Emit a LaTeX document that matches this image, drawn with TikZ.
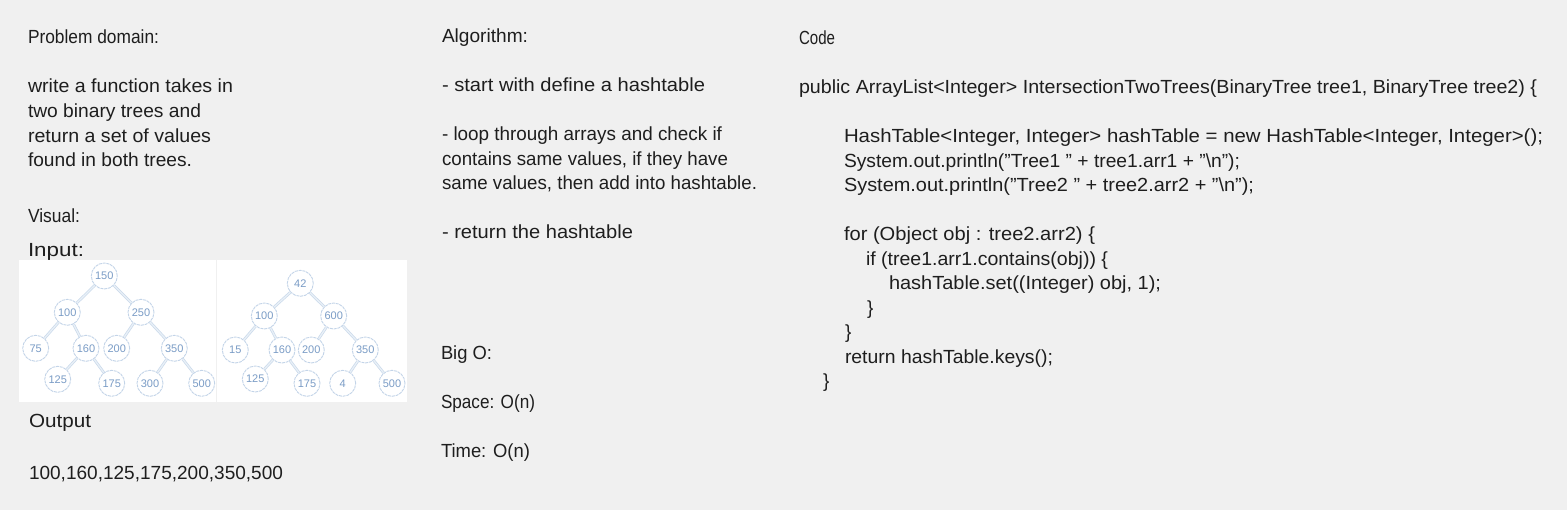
\documentclass[tikz,border=0pt]{standalone}
\usepackage{fontspec}
\setmainfont{Liberation Sans}
\usepackage{graphicx}
\definecolor{bg}{HTML}{F0F0F0}
\definecolor{ink}{HTML}{1E1E1E}
\definecolor{ring}{HTML}{C3D4E8}
\definecolor{edge}{HTML}{C9D9EB}
\definecolor{num}{HTML}{7A9CC6}
\newcommand\fitto[2]{\resizebox{#1pt}{\height}{#2}}
\newcommand\dq{\symbol{34}}
\tikzset{
  txt/.style={anchor=base west, inner sep=0pt, outer sep=0pt, text=ink, font=\fontsize{19}{24}\selectfont},
  tnode/.style={circle, draw=ring, line width=0.9pt, dash pattern=on 3pt off 0.8pt, fill=white, minimum size=26pt, inner sep=0pt, text=num, font=\fontsize{11}{12}\selectfont},
  tedge/.style={draw=edge, line width=0.7pt, double=white!60!edge, double distance=1.3pt},
  panel/.style={fill=white, draw=none}
}
\begin{document}
\begin{tikzpicture}[x=1pt,y=-1pt]
\useasboundingbox (0,0) rectangle (1567,510);
\fill[bg] (0,0) rectangle (1567,510);

% left column
\node[txt] (t1) at (28,44) {\fitto{131}{Problem domain:}};
\node[txt] (p1) at (28,93) {\fitto{205}{write a function takes in}};
\node[txt] (p2) at (28,118) {\fitto{173}{two binary trees and}};
\node[txt] (p3) at (28,143) {\fitto{183}{return a set of values}};
\node[txt] (p4) at (28,167) {\fitto{164}{found in both trees.}};
\node[txt] (vis) at (28,223) {\fitto{52}{Visual:}};
\node[txt] (inp) at (28,257) {\fitto{56}{Input:}};
\node[txt] (out) at (29,428) {\fitto{62}{Output}};
\node[txt] (res) at (29,479) {\fitto{254}{100,160,125,175,200,350,500}};

% tree panels
\path[panel] (19,260) rectangle (216,402);
\path[panel] (217,260) rectangle (407,402);

% tree 1
\node[tnode] (a150) at (104.3,276) {150};
\node[tnode] (a100) at (67.3,312.3) {100};
\node[tnode] (a250) at (141,312.3) {250};
\node[tnode] (a75) at (35.7,348.3) {75};
\node[tnode] (a160) at (86,348.3) {160};
\node[tnode] (a200) at (116.7,348.3) {200};
\node[tnode] (a350) at (174.3,348.3) {350};
\node[tnode] (a125) at (57.7,379.3) {125};
\node[tnode] (a175) at (111.7,383.3) {175};
\node[tnode] (a300) at (150,383.3) {300};
\node[tnode] (a500) at (201.7,383.3) {500};
\foreach \u/\v in {a150/a100,a150/a250,a100/a75,a100/a160,a250/a200,a250/a350,a160/a125,a160/a175,a350/a300,a350/a500}
  \path[tedge] (\u) -- (\v);

% tree 2
\node[tnode] (b42) at (300.3,283.3) {42};
\node[tnode] (b100) at (264.3,316) {100};
\node[tnode] (b600) at (333.7,316) {600};
\node[tnode] (b15) at (235.3,350) {15};
\node[tnode] (b160) at (282,350) {160};
\node[tnode] (b200) at (311.3,350) {200};
\node[tnode] (b350) at (365.3,350) {350};
\node[tnode] (b125) at (255.3,379) {125};
\node[tnode] (b175) at (307,383.3) {175};
\node[tnode] (b4) at (342.7,383.3) {4};
\node[tnode] (b500) at (392,383.3) {500};
\foreach \u/\v in {b42/b100,b42/b600,b100/b15,b100/b160,b600/b200,b600/b350,b160/b125,b160/b175,b350/b4,b350/b500}
  \path[tedge] (\u) -- (\v);

% algorithm column
\node[txt] (alg) at (442,43) {\fitto{86}{Algorithm:}};
\node[txt] (al1) at (442,92) {\fitto{263}{- start with define a hashtable}};
\node[txt] (al2) at (442,141) {\fitto{280}{- loop through arrays and check if}};
\node[txt] (al3) at (442,165.5) {\fitto{286}{contains same values, if they have}};
\node[txt] (al4) at (442,190) {\fitto{315}{same values, then add into hashtable.}};
\node[txt] (al5) at (442,239) {\fitto{191}{- return the hashtable}};
\node[txt] (big) at (441,360) {\fitto{51}{Big O:}};
\node[txt] (spc) at (441,409) {\fitto{94}{Space: O(n)}};
\node[txt] (tim) at (441,458) {\fitto{89}{Time: O(n)}};

% code column
\node[txt] (code) at (799,45) {\fitto{36}{Code}};
\node[txt] (c1) at (799,94) {\fitto{738}{public ArrayList<Integer> IntersectionTwoTrees(BinaryTree tree1, BinaryTree tree2) \{}};
\node[txt] (c2) at (844,143) {\fitto{699}{HashTable<Integer, Integer> hashTable = new HashTable<Integer, Integer>();}};
\node[txt] (c3) at (844,168) {\fitto{396}{System.out.println(\dq Tree1 \dq{} + tree1.arr1 + \dq\textbackslash n\dq);}};
\node[txt] (c4) at (844,192) {\fitto{410}{System.out.println(\dq Tree2 \dq{} + tree2.arr2 + \dq\textbackslash n\dq);}};
\node[txt] (c5) at (844,241) {\fitto{251}{for (Object obj : tree2.arr2) \{}};
\node[txt] (c6) at (866,266) {\fitto{242}{if (tree1.arr1.contains(obj)) \{}};
\node[txt] (c7) at (889,290) {\fitto{272}{hashTable.set((Integer) obj, 1);}};
\node[txt] (c8) at (867,315) {\}};
\node[txt] (c9) at (845,339) {\}};
\node[txt] (c10) at (845,364) {\fitto{208}{return hashTable.keys();}};
\node[txt] (c11) at (823,388) {\}};
\end{tikzpicture}
\end{document}
